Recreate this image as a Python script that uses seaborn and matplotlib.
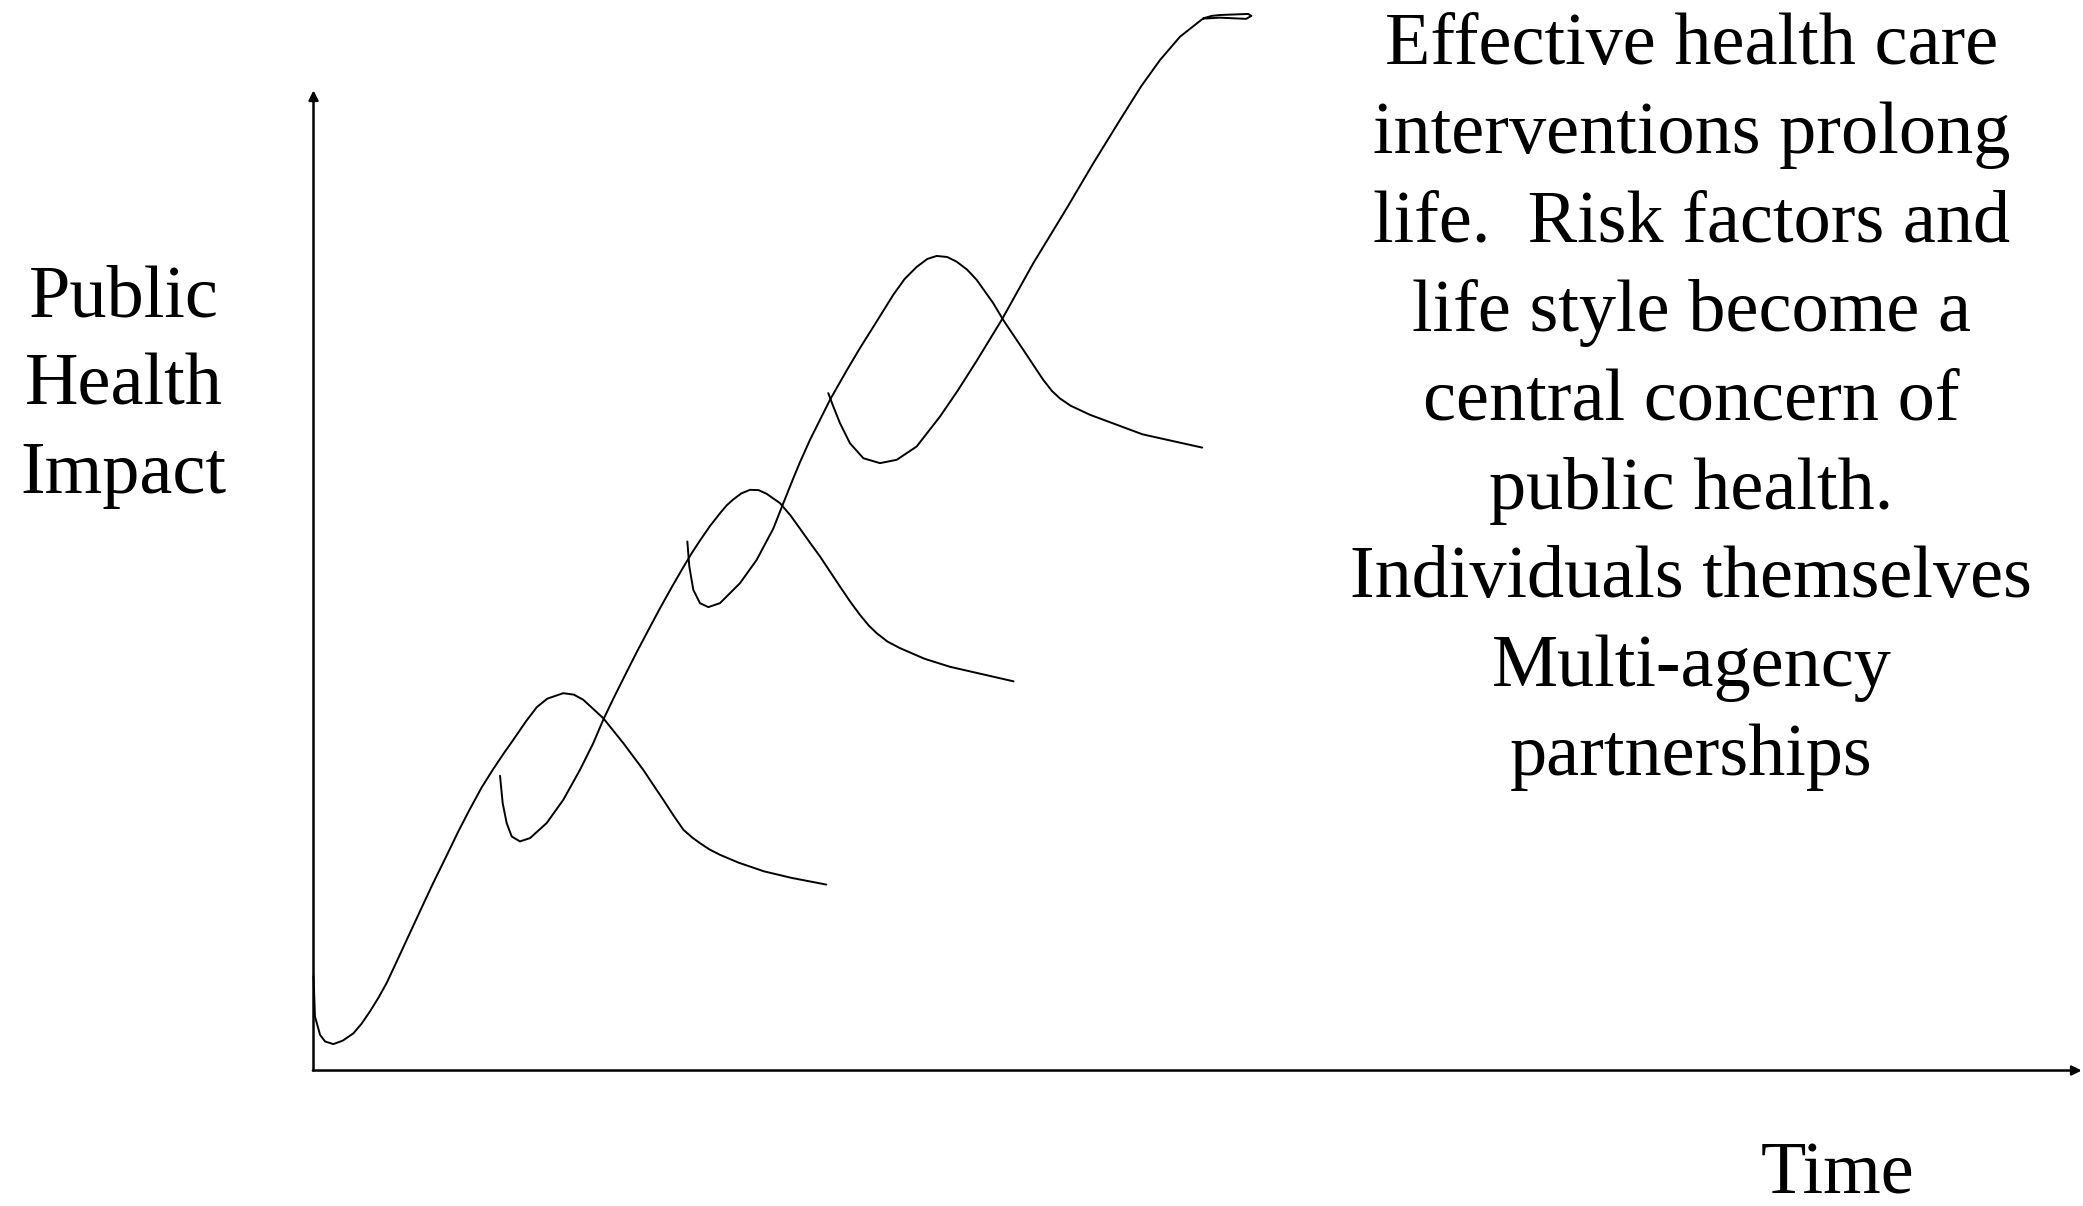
import matplotlib
matplotlib.use("Agg")
import matplotlib.pyplot as plt
import seaborn as sns
import pandas as pd

# ---- data (time, impact) ----
wave1_t = [0.00, 0.011, 0.049, 0.087, 0.149, 0.22, 0.30, 0.36, 0.425, 0.49, 0.551,
           0.626, 0.70, 0.802, 0.90, 1.003, 1.09, 1.178, 1.265, 1.353, 1.43, 1.504,
           1.60, 1.68, 1.76, 1.880, 1.96, 2.031, 2.181, 2.332, 2.482, 2.633, 2.71,
           2.784, 2.85, 2.909, 2.98, 3.06, 3.2, 3.39, 3.6, 3.86]
wave1_v = [0.71, 0.407, 0.269, 0.219, 0.199, 0.225, 0.28, 0.35, 0.445, 0.55, 0.66,
           0.82, 0.98, 1.20, 1.41, 1.62, 1.80, 1.97, 2.13, 2.27, 2.385, 2.49,
           2.63, 2.735, 2.80, 2.841, 2.83, 2.791, 2.653, 2.465, 2.264, 2.038, 1.92,
           1.813, 1.755, 1.712, 1.665, 1.624, 1.565, 1.50, 1.45, 1.40]

wave2_t = [1.404, 1.424, 1.454, 1.492, 1.554, 1.630, 1.755, 1.880, 2.006, 2.106,
           2.181, 2.257, 2.357, 2.433, 2.52, 2.608, 2.70, 2.784, 2.85, 2.909, 2.985,
           3.060, 3.11, 3.160, 3.22, 3.286, 3.35, 3.411, 3.511, 3.59, 3.662, 3.74,
           3.813, 3.963, 4.04, 4.114, 4.18, 4.239, 4.32, 4.415, 4.6, 4.79, 5.27]
wave2_v = [2.219, 2.013, 1.863, 1.762, 1.725, 1.750, 1.863, 2.038, 2.264, 2.465,
           2.641, 2.80, 3.00, 3.15, 3.315, 3.48, 3.645, 3.79, 3.90, 3.99, 4.10,
           4.196, 4.255, 4.30, 4.345, 4.372, 4.37, 4.342, 4.272, 4.18, 4.08, 3.97,
           3.870, 3.644, 3.53, 3.43, 3.35, 3.293, 3.23, 3.180, 3.10, 3.04, 2.93]

wave3_t = [2.814, 2.829, 2.859, 2.909, 2.972, 3.060, 3.211, 3.336, 3.461, 3.536,
           3.612, 3.662, 3.738, 3.813, 3.888, 4.013, 4.114, 4.227, 4.364, 4.45, 4.54,
           4.62, 4.691, 4.77, 4.841, 4.92, 4.992, 5.117, 5.192, 5.343, 5.493, 5.56,
           5.619, 5.70, 5.845, 6.24, 6.69]
wave3_v = [3.983, 3.794, 3.619, 3.519, 3.489, 3.519, 3.670, 3.845, 4.08, 4.27,
           4.46, 4.58, 4.75, 4.90, 5.05, 5.27, 5.44, 5.62, 5.84, 5.96, 6.05,
           6.11, 6.133, 6.125, 6.090, 6.03, 5.953, 5.777, 5.651, 5.426, 5.200, 5.115,
           5.06, 5.005, 4.937, 4.79, 4.69]

wave4_t = [3.875, 3.913, 3.963, 4.038, 4.139, 4.264, 4.390, 4.540, 4.716, 4.85, 4.99,
           5.180, 5.418, 5.670, 5.870, 6.071, 6.23, 6.372, 6.523, 6.698, 6.76, 6.823,
           7.036, 7.06, 7.02, 6.823, 6.70]
wave4_v = [5.100, 4.999, 4.874, 4.723, 4.610, 4.573, 4.598, 4.698, 4.924, 5.12, 5.34,
           5.651, 6.078, 6.492, 6.831, 7.157, 7.41, 7.608, 7.784, 7.922, 7.94, 7.947,
           7.955, 7.94, 7.918, 7.927, 7.92]

y_label = "Public\nHealth\nImpact"
x_label = "Time"
note = ("Effective health care\ninterventions prolong\nlife.  Risk factors and\n"
        "life style become a\ncentral concern of\npublic health.\n"
        "Individuals themselves\nMulti-agency\npartnerships")

sns.set_theme(style="white")
plt.rcParams["font.family"] = ["Liberation Serif", "DejaVu Serif"]

fig = plt.figure(figsize=(20.83, 12.06), dpi=100)
ax = fig.add_axes([0, 0, 1, 1])

waves = [(wave1_t, wave1_v), (wave2_t, wave2_v), (wave3_t, wave3_v), (wave4_t, wave4_v)]
for t, v in waves:
    df = pd.DataFrame({"t": t, "v": v})
    sns.lineplot(data=df, x="t", y="v", sort=False, estimator=None,
                 color="black", lw=1.4, ax=ax)

ax.set_xlim(-2.36, 13.32)
ax.set_ylim(-1.02, 8.06)
ax.axis("off")

arrow = dict(arrowstyle="-|>", lw=1.8, color="black", mutation_scale=14,
             shrinkA=0, shrinkB=0)
ax.annotate("", xy=(0, 7.38), xytext=(0, 0), arrowprops=arrow)
ax.annotate("", xy=(13.31, 0), xytext=(-0.005, 0), arrowprops=arrow)

fs = 53.5
fig.text(0.0593, 0.679, y_label, ha="center", va="center", fontsize=fs,
         linespacing=1.41, color="black")
fig.text(0.812, 0.667, note, ha="center", va="center", fontsize=fs,
         linespacing=1.41, color="black")
fig.text(0.882, 0.025, x_label, ha="center", va="center", fontsize=fs, color="black")

fig.savefig("out.png", dpi=100, facecolor="white")
